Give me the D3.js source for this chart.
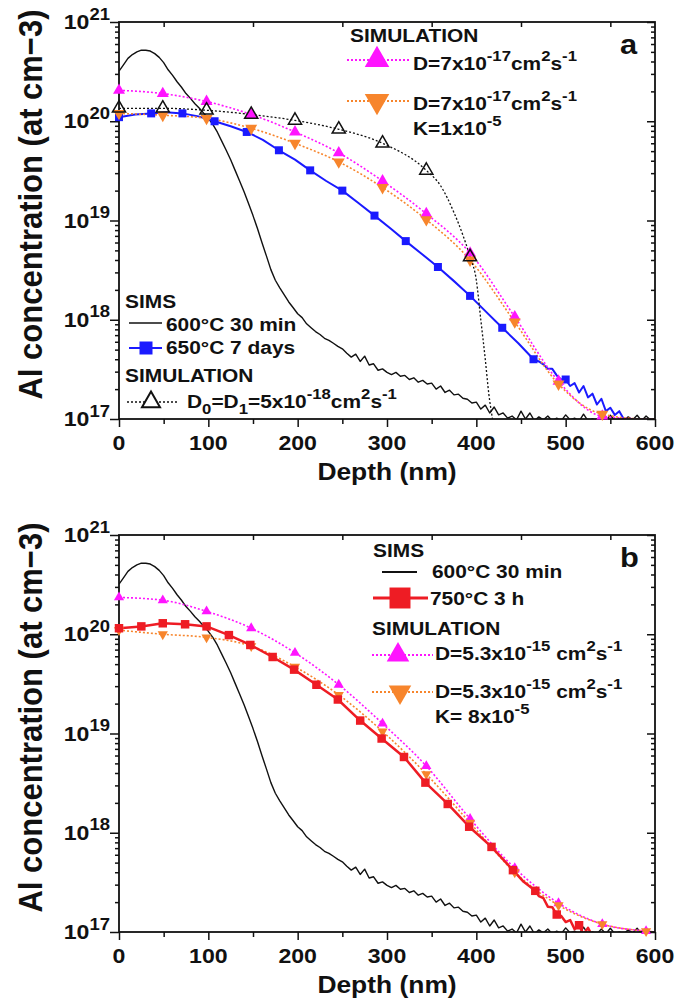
<!DOCTYPE html>
<html>
<head>
<meta charset="utf-8">
<script src="https://cdn.jsdelivr.net/npm/d3@7"></script>
<style>
  body { margin: 0; background: #fff; }
  svg text { font-family: "Liberation Sans", Arial, sans-serif; font-weight: bold; fill: #111; }
</style>
</head>
<body>
<svg id="chart" width="692" height="1005"></svg>
<script>
// ---- data ----
const xTicks = [0, 100, 200, 300, 400, 500, 600];
const yDecades = [17, 18, 19, 20, 21];

// SIMS 600°C 30 min, one sample every 5 nm from 0 to 600 nm (same profile in a and b)
const simsDepth = d3.range(0, 601, 5);
const sims600 = [
  3.2e20, 3.7e20, 4.3e20, 4.7e20, 5.0e20, 5.2e20, 5.2e20, 5.1e20, 4.8e20, 4.4e20,
  3.9e20, 3.3e20, 2.9e20, 2.5e20, 2.2e20, 1.9e20, 1.7e20, 1.5e20, 1.35e20, 1.2e20,
  1.07e20, 9.3e19, 7.8e19, 6.3e19, 5.1e19, 4.1e19, 3.2e19, 2.5e19, 1.95e19, 1.48e19,
  1.12e19, 8.3e18, 6.0e18, 4.4e18, 3.2e18, 2.5e18, 2.1e18, 1.78e18, 1.51e18, 1.32e18,
  1.15e18, 1.05e18, 9.1e17, 8.3e17, 7.6e17, 7.1e17, 6.5e17, 6.2e17, 5.8e17, 5.4e17,
  5.1e17, 4.6e17, 4.2e17, 4.5e17, 3.8e17, 4.3e17, 3.5e17, 3.6e17, 3.1e17, 3.2e17,
  2.95e17, 2.8e17, 2.95e17, 2.7e17, 2.75e17, 2.5e17, 2.6e17, 2.35e17, 2.45e17, 2.25e17,
  2.3e17, 2.0e17, 2.15e17, 1.85e17, 1.95e17, 1.75e17, 1.78e17, 1.62e17, 1.58e17, 1.45e17,
  1.48e17, 1.26e17, 1.38e17, 1.15e17, 1.32e17, 1.1e17, 1.15e17, 1.02e17, 1.07e17, 0.98e17,
  1.2e17, 1.0e17, 1.15e17, 0.96e17, 1.05e17, 0.98e17, 1.07e17, 0.96e17, 1.02e17, 0.96e17,
  1.1e17, 0.98e17, 1.02e17, 0.95e17, 1.12e17, 0.96e17, 1.0e17, 0.96e17, 1.07e17, 0.96e17,
  1.09e17, 0.96e17, 1.0e17, 0.96e17, 1.05e17, 0.98e17, 1.09e17, 0.96e17, 1.07e17, 0.98e17, 1.0e17
];

// SIMS 650°C 7 days (panel a)
const blueDepth = [0, 18, 36, 53, 71, 89, 107, 125, 143, 161, 179, 197, 214, 232, 250, 268, 286, 304, 321, 339,
  357, 375, 393, 411, 429, 447, 464, 470, 475, 480, 485, 490, 495, 500, 505, 510, 515, 520, 525, 530,
  535, 540, 545, 550, 555, 560, 565];
const blue7d = [1.1e20, 1.17e20, 1.2e20, 1.23e20, 1.2e20, 1.12e20, 1.0e20, 8.9e19, 7.8e19, 6.5e19,
  5.1e19, 4.1e19, 3.2e19, 2.5e19, 2.0e19, 1.5e19, 1.12e19, 8.3e18, 6.2e18, 4.6e18,
  3.4e18, 2.45e18, 1.74e18, 1.2e18, 8.3e17, 5.8e17, 4.0e17, 3.8e17, 3.55e17, 3.2e17,
  3.2e17, 2.75e17, 2.5e17, 2.5e17, 2.15e17, 2.3e17, 1.85e17, 2.15e17, 1.65e17, 1.8e17,
  1.4e17, 1.6e17, 1.2e17, 1.3e17, 1.1e17, 1.2e17, 1.0e17];
const blueMarks = [0, 36, 71, 107, 143, 179, 214, 250, 286, 321, 357, 393, 429, 464, 500];

// simulations, sampled where the triangles sit
const simDepth = [0, 49, 98, 148, 197, 246, 295, 344, 393, 443, 492, 541, 590, 600];
const magentaA = [2.05e20, 1.9e20, 1.58e20, 1.17e20, 7.8e19, 4.8e19, 2.5e19, 1.17e19, 4.7e18, 1.07e18, 2.4e17, 1.07e17, 1.0e17, 1.0e17];
const orangeA = [1.2e20, 1.15e20, 1.07e20, 8.5e19, 6.0e19, 3.9e19, 2.15e19, 1.02e19, 4.0e18, 9.5e17, 2.25e17, 1.12e17, 1.0e17, 1.0e17];
const magentaB = [2.35e20, 2.2e20, 1.7e20, 1.15e20, 6.5e19, 3.1e19, 1.26e19, 4.7e18, 1.38e18, 4.4e17, 1.95e17, 1.2e17, 1.02e17, 1.0e17];
const orangeB = [1.1e20, 1.0e20, 9.3e19, 7.6e19, 4.7e19, 2.45e19, 1.05e19, 3.9e18, 1.26e18, 4.0e17, 1.86e17, 1.2e17, 1.02e17, 1.0e17];
const simMarksA = [0, 49, 98, 148, 197, 246, 295, 344, 393, 443, 492, 541];
const simMarksB = [0, 49, 98, 148, 197, 246, 295, 344, 393, 443, 492, 541, 590];

// D0 = D1 simulation (panel a)
const blackSimDepth = [0, 49, 98, 148, 197, 246, 295, 344, 360, 375, 385, 393, 400, 405, 410, 414, 418, 421];
const blackSim = [1.35e20, 1.35e20, 1.29e20, 1.17e20, 1.02e20, 8.3e19, 6.0e19, 3.2e19, 2.24e19, 1.2e19,
  7.1e18, 4.3e18, 2.5e18, 1.0e18, 4.0e17, 1.78e17, 1.0e17, 6.3e16];
const blackSimMarks = [0, 49, 98, 148, 197, 246, 295, 344, 393];

// SIMS 750°C 3 h (panel b)
const redDepth = [0, 25, 49, 74, 98, 123, 147, 172, 196, 221, 245, 270, 294, 319, 343, 368, 392, 417, 441, 453,
  466, 470, 475, 480, 485, 490, 495, 500, 505, 510, 515, 520, 525, 530];
const red3h = [1.15e20, 1.2e20, 1.29e20, 1.26e20, 1.2e20, 9.8e19, 7.8e19, 5.9e19, 4.4e19, 3.1e19,
  2.2e19, 1.35e19, 8.9e18, 5.8e18, 3.2e18, 1.95e18, 1.15e18, 7.2e17, 4.2e17, 3.2e17,
  2.6e17, 2.3e17, 2.2e17, 1.8e17, 1.78e17, 1.5e17, 1.45e17, 1.26e17, 1.32e17, 1.07e17,
  1.17e17, 0.95e17, 1.1e17, 0.91e17];
const redMarks = [0, 25, 49, 74, 98, 123, 147, 172, 196, 221, 245, 270, 294, 319, 343, 368, 392, 417, 441, 466, 490, 515];

const MAGENTA = '#ff14ff', ORANGE = '#f7852c', BLUE = '#1a1aff', RED = '#ee1c24';
const SX = 1.1; // text in the figure is a little wider than the font

const svg = d3.select('#chart');
svg.append('rect').attr('width', 692).attr('height', 1005).attr('fill', '#fff');

// text with super/subscripts
function richText(g, x, y, parts, size, anchor) {
  const t = g.append('text')
    .attr('transform', `translate(${x},${y}) scale(${SX},1)`)
    .attr('font-size', size)
    .attr('text-anchor', anchor || 'start');
  let shift = 0;
  parts.forEach((p) => {
    const [txt, kind] = Array.isArray(p) ? p : [p, null];
    const target = kind === 'sup' ? -size * 0.45 : kind === 'sub' ? size * 0.3 : 0;
    t.append('tspan')
      .attr('dy', target - shift)
      .attr('font-size', kind ? size * 0.8 : size)
      .text(txt);
    shift = target;
  });
  return t;
}

function drawPanel(cfg) {
  const x = d3.scaleLinear().domain([0, 600]).range([119, 655]);
  const y = d3.scaleLog().domain([1e17, 1e21]).range([cfg.bottom, cfg.top]);
  const g = svg.append('g');

  g.append('clipPath').attr('id', cfg.id)
    .append('rect').attr('x', x(0)).attr('y', y(1e21))
    .attr('width', x(600) - x(0)).attr('height', y(1e17) - y(1e21));
  const plot = g.append('g').attr('clip-path', `url(#${cfg.id})`);

  const minor = [];
  yDecades.slice(0, -1).forEach((e) => d3.range(2, 10).forEach((m) => minor.push(m * Math.pow(10, e))));
  const majors = yDecades.map((e) => Math.pow(10, e));

  const axes = g.append('g');
  axes.append('g').attr('transform', `translate(${x(0)},0)`)
    .call(d3.axisLeft(y).tickValues(minor).tickSize(4).tickSizeOuter(0).tickFormat(''));
  axes.append('g').attr('transform', `translate(${x(0)},0)`)
    .call(d3.axisLeft(y).tickValues(majors).tickSize(9).tickSizeOuter(0).tickFormat(''));
  axes.append('g').attr('transform', `translate(${x(600)},0)`)
    .call(d3.axisRight(y).tickValues(minor).tickSize(-4).tickSizeOuter(0).tickFormat(''));
  axes.append('g').attr('transform', `translate(${x(600)},0)`)
    .call(d3.axisRight(y).tickValues(majors).tickSize(-8).tickSizeOuter(0).tickFormat(''));
  axes.append('g').attr('transform', `translate(0,${y(1e17)})`)
    .call(d3.axisBottom(x).tickValues(xTicks).tickSize(8).tickSizeOuter(0).tickFormat(''));
  axes.append('g').attr('transform', `translate(0,${y(1e17)})`)
    .call(d3.axisBottom(x).tickValues(d3.range(50, 600, 100)).tickSize(5).tickSizeOuter(0).tickFormat(''));
  axes.append('g').attr('transform', `translate(0,${y(1e21)})`)
    .call(d3.axisTop(x).tickValues(d3.range(50, 600, 100)).tickSize(-5).tickSizeOuter(0).tickFormat(''));
  axes.selectAll('.domain').remove();
  axes.selectAll('line').attr('stroke', '#111').attr('stroke-width', 1.5);
  g.append('rect').attr('x', x(0)).attr('y', y(1e21))
    .attr('width', x(600) - x(0)).attr('height', y(1e17) - y(1e21))
    .attr('fill', 'none').attr('stroke', '#111').attr('stroke-width', 1.8);

  // tick labels
  xTicks.forEach((v) => richText(g, x(v), y(1e17) + 31, [String(v)], 21, 'middle'));
  yDecades.forEach((e) => richText(g, 110, y(Math.pow(10, e)) + 7, ['10', [String(e), 'sup']], 21, 'end'));

  // axis titles
  richText(g, 387, y(1e17) + 61, ['Depth (nm)'], 24, 'middle');
  g.append('text')
    .attr('transform', `translate(42,${(cfg.top + cfg.bottom) / 2 - 16}) rotate(-90) scale(1,${SX})`)
    .attr('font-size', 31).attr('text-anchor', 'middle')
    .text('Al concentration (at cm\u22123)');
  richText(g, 620, cfg.top + 32, [cfg.letter], 28, 'start');

  return { x, y, g, plot };
}

function line(p, depth, conc, color, width, dash, curve) {
  const pts = depth.map((d, i) => [d, conc[i]]);
  p.plot.append('path').datum(pts)
    .attr('d', d3.line().x((d) => p.x(d[0])).y((d) => p.y(d[1])).curve(curve || d3.curveLinear))
    .attr('fill', 'none').attr('stroke', color).attr('stroke-width', width)
    .attr('stroke-dasharray', dash || null).attr('stroke-linejoin', 'round');
}

function markers(p, depth, conc, marks, type, area, fill, stroke, flip) {
  const pts = depth.map((d, i) => [d, conc[i]]).filter((d) => marks.includes(d[0]));
  p.g.append('g').selectAll('path').data(pts).join('path')
    .attr('d', d3.symbol().type(type).size(area))
    .attr('transform', (d) => `translate(${p.x(d[0])},${p.y(d[1])})${flip ? ' rotate(180)' : ''}`)
    .attr('fill', fill).attr('stroke', stroke || 'none').attr('stroke-width', 1.5);
}

function legendLine(g, x1, x2, yy, color, width, dash) {
  g.append('line').attr('x1', x1).attr('x2', x2).attr('y1', yy).attr('y2', yy)
    .attr('stroke', color).attr('stroke-width', width).attr('stroke-dasharray', dash || null);
}
function legendSymbol(g, cx, cy, type, area, fill, stroke, flip) {
  g.append('path').attr('d', d3.symbol().type(type).size(area))
    .attr('transform', `translate(${cx},${cy})${flip ? ' rotate(180)' : ''}`)
    .attr('fill', fill).attr('stroke', stroke || 'none').attr('stroke-width', 2);
}

const DOT = '2,2';
const smooth = d3.curveMonotoneX;

// ---------- panel a ----------
const a = drawPanel({ id: 'clip-a', top: 22, bottom: 419, letter: 'a' });
line(a, simsDepth, sims600, '#111', 1.4);
line(a, blueDepth, blue7d, BLUE, 2);
markers(a, blueDepth, blue7d, blueMarks, d3.symbolSquare, 64, BLUE);
line(a, simDepth, magentaA, MAGENTA, 1.6, DOT, smooth);
markers(a, simDepth, magentaA, simMarksA, d3.symbolTriangle, 62, MAGENTA);
line(a, simDepth, orangeA, ORANGE, 1.6, DOT, smooth);
markers(a, simDepth, orangeA, simMarksA, d3.symbolTriangle, 62, ORANGE, null, true);
line(a, blackSimDepth, blackSim, '#111', 1.3, DOT, smooth);
markers(a, blackSimDepth, blackSim, blackSimMarks, d3.symbolTriangle, 75, 'none', '#111');

richText(a.g, 350, 42, ['SIMULATION'], 19);
legendLine(a.g, 347, 410, 60, MAGENTA, 2, DOT);
legendSymbol(a.g, 377, 60, d3.symbolTriangle, 260, MAGENTA);
richText(a.g, 413, 70, ['D=7x10', ['-17', 'sup'], 'cm', ['2', 'sup'], 's', ['-1', 'sup']], 19);
legendLine(a.g, 347, 410, 101, ORANGE, 2, DOT);
legendSymbol(a.g, 377, 101, d3.symbolTriangle, 260, ORANGE, null, true);
richText(a.g, 413, 110, ['D=7x10', ['-17', 'sup'], 'cm', ['2', 'sup'], 's', ['-1', 'sup']], 19);
richText(a.g, 413, 135, ['K=1x10', ['-5', 'sup']], 19);

richText(a.g, 125, 308, ['SIMS'], 19);
legendLine(a.g, 129, 162, 323, '#111', 1.6);
richText(a.g, 166, 331, ['600°C 30 min'], 19);
legendLine(a.g, 129, 162, 348, BLUE, 2.2);
legendSymbol(a.g, 146, 348, d3.symbolSquare, 169, BLUE);
richText(a.g, 166, 354, ['650°C 7 days'], 19);
richText(a.g, 125, 382, ['SIMULATION'], 19);
legendLine(a.g, 127, 178, 402, '#111', 1.5, DOT);
legendSymbol(a.g, 151, 402, d3.symbolTriangle, 140, '#fff', '#111');
richText(a.g, 187, 408, ['D', ['0', 'sub'], '=D', ['1', 'sub'], '=5x10', ['-18', 'sup'], 'cm', ['2', 'sup'], 's', ['-1', 'sup']], 19);

// ---------- panel b ----------
const b = drawPanel({ id: 'clip-b', top: 535, bottom: 932, letter: 'b' });
line(b, simsDepth, sims600, '#111', 1.4);
line(b, simDepth, magentaB, MAGENTA, 1.6, DOT, smooth);
markers(b, simDepth, magentaB, simMarksB, d3.symbolTriangle, 45, MAGENTA);
line(b, simDepth, orangeB, ORANGE, 1.6, DOT, smooth);
markers(b, simDepth, orangeB, simMarksB, d3.symbolTriangle, 45, ORANGE, null, true);
line(b, redDepth, red3h, RED, 2.5);
markers(b, redDepth, red3h, redMarks, d3.symbolSquare, 72, RED);

richText(b.g, 373, 557, ['SIMS'], 19);
legendLine(b.g, 382, 417, 572, '#111', 2);
richText(b.g, 432, 578, ['600°C 30 min'], 19);
legendLine(b.g, 373, 428, 598, RED, 3);
legendSymbol(b.g, 400, 598, d3.symbolSquare, 440, RED);
richText(b.g, 430, 605, ['750°C 3 h'], 19);
richText(b.g, 372, 635, ['SIMULATION'], 19);
legendLine(b.g, 372, 433, 655, MAGENTA, 2, DOT);
legendSymbol(b.g, 398, 655, d3.symbolTriangle, 220, MAGENTA);
richText(b.g, 435, 660, ['D=5.3x10', ['-15', 'sup'], ' cm', ['2', 'sup'], 's', ['-1', 'sup']], 19);
legendLine(b.g, 372, 433, 692, ORANGE, 2, DOT);
legendSymbol(b.g, 400, 692, d3.symbolTriangle, 220, ORANGE, null, true);
richText(b.g, 435, 698, ['D=5.3x10', ['-15', 'sup'], ' cm', ['2', 'sup'], 's', ['-1', 'sup']], 19);
richText(b.g, 435, 723, ['K= 8x10', ['-5', 'sup']], 19);
</script>
</body>
</html>
